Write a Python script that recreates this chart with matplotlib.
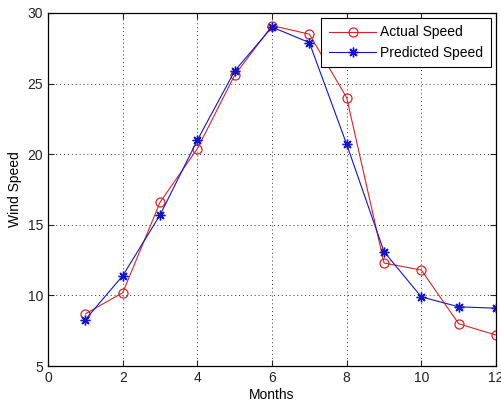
import matplotlib
matplotlib.use("Agg")
import matplotlib.pyplot as plt

months = [1, 2, 3, 4, 5, 6, 7, 8, 9, 10, 11, 12]
actual_speed = [8.7, 10.2, 16.6, 20.4, 25.6, 29.1, 28.5, 24.0, 12.3, 11.8, 8.0, 7.2]
predicted_speed = [8.3, 11.4, 15.7, 21.0, 25.9, 29.0, 27.9, 20.7, 13.1, 9.9, 9.2, 9.1]
x_ticks = [0, 2, 4, 6, 8, 10, 12]
y_ticks = [5, 10, 15, 20, 25, 30]

plt.rcParams['font.family'] = ['Liberation Sans', 'DejaVu Sans']
plt.rcParams['font.size'] = 10

fig = plt.figure(figsize=(5.01, 4.05), dpi=100)
ax = fig.add_axes([0.096, 0.096, 0.894, 0.872])

red = '#d42525'
blue = '#1414c8'
ax.plot(months, actual_speed, color=red, marker='o', markersize=6.5,
        markerfacecolor='none', markeredgecolor=red, markeredgewidth=0.9,
        linewidth=0.8, label='Actual Speed')
ax.plot(months, predicted_speed, color=blue, marker=(8, 2, 0), markersize=7,
        markeredgecolor=blue, markeredgewidth=1.0,
        linewidth=0.8, label='Predicted Speed')

ax.set_xlim(0, 12)
ax.set_ylim(5, 30)
ax.set_xticks(x_ticks)
ax.set_yticks(y_ticks)
ax.tick_params(direction='in', top=True, right=True, length=4, width=0.8,
               colors='#222222')
ax.grid(True, linestyle=(0, (1, 3)), color='#333333', linewidth=0.7)
for s in ax.spines.values():
    s.set_linewidth(0.9)

ax.set_xlabel('Months', labelpad=2)
ax.set_ylabel('Wind Speed', labelpad=4)

leg = ax.legend(loc='upper right', fancybox=False, framealpha=1,
                edgecolor='black', borderpad=0.55, handlelength=3.4,
                labelspacing=0.45, handletextpad=0.3, borderaxespad=0.35)
leg.get_frame().set_linewidth(0.8)

fig.savefig('out.png', dpi=100)
